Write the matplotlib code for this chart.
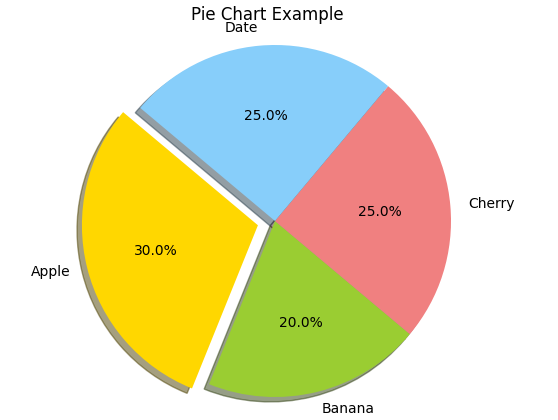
import matplotlib
matplotlib.use('Agg')
import matplotlib.pyplot as plt

labels = ['Apple', 'Banana', 'Cherry', 'Date']
sizes = [30, 20, 25, 25]
colors = ['gold', 'yellowgreen', 'lightcoral', 'lightskyblue']
explode = (0.1, 0, 0, 0)  # Separar la primera porción

fig = plt.figure(figsize=(5.58, 4.2), dpi=100)
# Ejes cuadrados de 440 px, centro del pastel en (275, 221) desde arriba
ax = fig.add_axes([55 / 558, -21 / 420, 440 / 558, 440 / 420])
ax.pie(sizes, explode=explode, labels=labels, colors=colors,
       autopct='%1.1f%%', shadow=True, startangle=140)
ax.set_xlim(-1.25, 1.25)
ax.set_ylim(-1.25, 1.25)
ax.set_aspect('equal')
fig.text(267 / 558, 1 - 15 / 420, 'Pie Chart Example', fontsize=12,
         ha='center', va='center')
plt.savefig('out.png', dpi=100)
